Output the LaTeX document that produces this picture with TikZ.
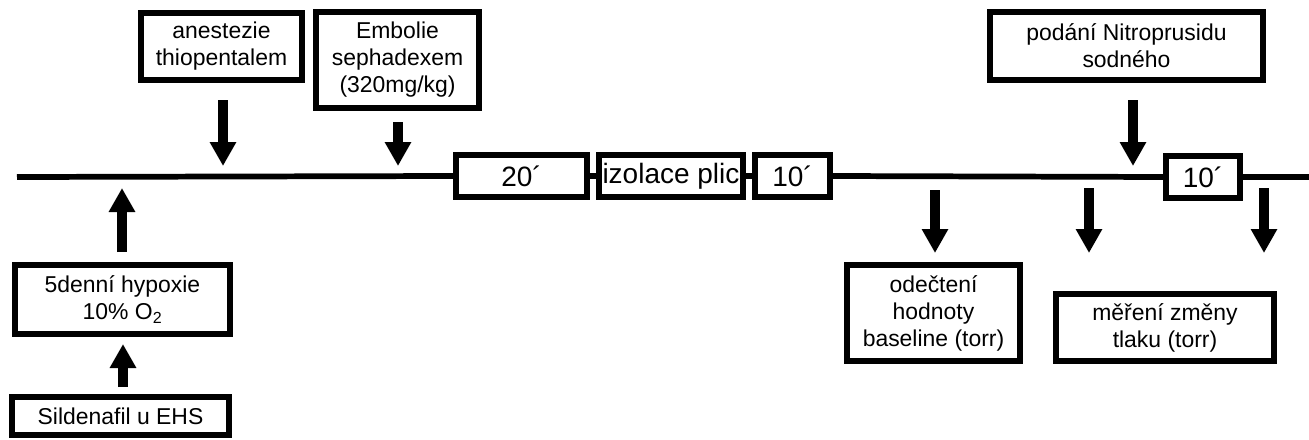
\documentclass[tikz,border=0pt]{standalone}
\usepackage{fontspec}
\setmainfont{Liberation Sans}
\usetikzlibrary{arrows.meta}
\begin{document}
\begin{tikzpicture}[x=0.75pt,y=-0.75pt,
  box/.style={draw,line width=4.5pt,fill=white,inner sep=0pt,align=center,
    font=\fontsize{17.2}{20.3}\selectfont},
  tbox/.style={box,font=\fontsize{21}{24}\selectfont},
  tline/.style={line width=4.3pt},
  arr/.style={line width=6.9pt,-{Triangle[width=18.75pt,length=18pt]}}]
\useasboundingbox (0,0) rectangle (1309,439);
% boxes
\node[box,minimum width=161*0.75pt,minimum height=67*0.75pt] (ane) at (221.5,46.5) {anestezie\\thiopentalem};
\node[box,minimum width=163*0.75pt,minimum height=96*0.75pt] (emb) at (397.5,60) {Embolie\\sephadexem\\(320mg/kg)};
\node[box,minimum width=215*0.75pt,minimum height=69*0.75pt] (hyp) at (122.5,299.5) {5denní hypoxie\\10\% O\textsubscript{2}};
\node[box,minimum width=217*0.75pt,minimum height=38*0.75pt] (sil) at (120.5,416) {Sildenafil u EHS};
\node[tbox,minimum width=131*0.75pt,minimum height=42*0.75pt] (t20) at (521.5,176) {20´};
\node[tbox,minimum width=144*0.75pt,minimum height=42*0.75pt] (izo) at (671,176) {izolace plic};
\node[tbox,minimum width=75*0.75pt,minimum height=42*0.75pt] (t10a) at (792.5,176) {10´};
\node[box,minimum width=273*0.75pt,minimum height=68*0.75pt] (nit) at (1126.5,46) {podání Nitroprusidu\\sodného};
\node[tbox,minimum width=74*0.75pt,minimum height=42*0.75pt] (t10b) at (1203,177) {10´};
\node[box,minimum width=173*0.75pt,minimum height=96*0.75pt] (ode) at (933.5,313) {odečtení\\hodnoty\\baseline (torr)};
\node[box,minimum width=218*0.75pt,minimum height=67*0.75pt] (mer) at (1165,327.5) {měření změny\\tlaku (torr)};
% timeline
\coordinate (lstart) at (17,177);
\coordinate (lend) at (1309,177);
\draw[tline] (lstart) -- (t20.west);
\draw[tline] (t20.east) -- (izo.west);
\draw[tline] (izo.east) -- (t10a.west);
\draw[tline] (t10a.east) -- (t10b.west);
\draw[tline] (t10b.east) -- (lend);
% arrow coordinates
\coordinate (a1s) at (223,100); \coordinate (a1e) at (223,166);
\coordinate (a2s) at (398,122); \coordinate (a2e) at (398,166);
\coordinate (u1s) at (122,252); \coordinate (u1e) at (122,188);
\coordinate (u2s) at (123,387); \coordinate (u2e) at (123,344);
\coordinate (a3s) at (1133,100); \coordinate (a3e) at (1133,166);
\coordinate (d1s) at (935,190); \coordinate (d1e) at (935,253);
\coordinate (d2s) at (1089,188); \coordinate (d2e) at (1089,253);
\coordinate (d3s) at (1264,188); \coordinate (d3e) at (1264,253);
\draw[arr] (a1s) -- (a1e);
\draw[arr] (a2s) -- (a2e);
\draw[arr] (u1s) -- (u1e);
\draw[arr] (u2s) -- (u2e);
\draw[arr] (a3s) -- (a3e);
\draw[arr] (d1s) -- (d1e);
\draw[arr] (d2s) -- (d2e);
\draw[arr] (d3s) -- (d3e);
\end{tikzpicture}
\end{document}
